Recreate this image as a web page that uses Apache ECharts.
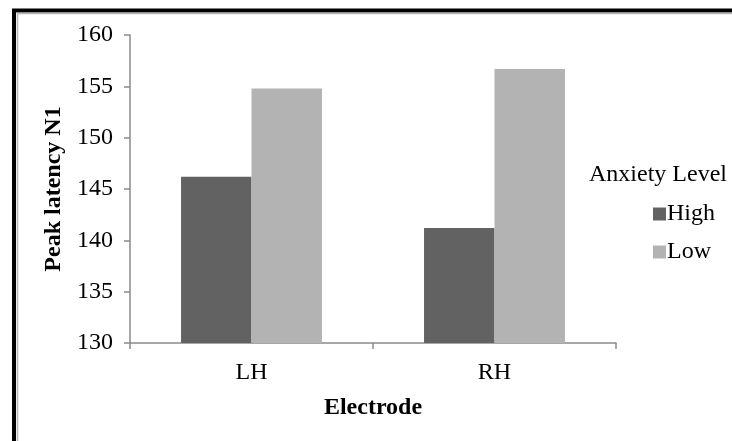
<!DOCTYPE html>
<html>
<head>
<meta charset="utf-8">
<script src="https://cdn.jsdelivr.net/npm/echarts@6/dist/echarts.min.js"></script>
<style>
  html, body { margin: 0; padding: 0; background: #fff; }
  #chart { width: 732px; height: 441px; }
</style>
</head>
<body>
<div id="chart"></div>
<script>
// Electrode sites on the x axis
const categories = ['LH', 'RH'];
// Mean N1 peak latency per anxiety group
const highValues = [146.2, 141.2];
const lowValues = [154.8, 156.7];
// Y axis range and step
const yMin = 130;
const yMax = 160;
const yStep = 5;

const serif = '"Liberation Serif", "Times New Roman", serif';
const axisGray = '#8a8a8a';
const fs = 24;

const chart = echarts.init(document.getElementById('chart'), null, { renderer: 'canvas' });

chart.setOption({
  animation: false,
  backgroundColor: '#fff',
  grid: { left: 130, right: 116, top: 35, bottom: 98, containLabel: false },
  title: {
    text: 'Anxiety Level',
    left: 584,
    top: 158,
    textStyle: { fontFamily: serif, fontSize: fs, fontWeight: 'normal', color: '#000' }
  },
  legend: {
    orient: 'vertical',
    left: 648,
    top: 197,
    itemWidth: 13,
    itemHeight: 13,
    itemGap: 14,
    icon: 'rect',
    textStyle: { fontFamily: serif, fontSize: fs, color: '#000', padding: [0, 0, 0, -4] },
    data: ['High', 'Low']
  },
  xAxis: {
    type: 'category',
    data: categories,
    name: 'Electrode',
    nameLocation: 'middle',
    nameGap: 53,
    nameTextStyle: { fontFamily: serif, fontSize: fs, fontWeight: 'bold', color: '#000' },
    axisLine: { lineStyle: { color: axisGray, width: 1.5 } },
    axisTick: { show: true, length: 6, lineStyle: { color: axisGray, width: 1.5 } },
    axisLabel: { fontFamily: serif, fontSize: fs, color: '#000', margin: 18 }
  },
  yAxis: {
    type: 'value',
    min: yMin,
    max: yMax,
    interval: yStep,
    name: 'Peak latency N1',
    nameLocation: 'middle',
    nameRotate: 90,
    nameGap: 58,
    nameTextStyle: { fontFamily: serif, fontSize: fs, fontWeight: 'bold', color: '#000' },
    splitLine: { show: false },
    axisLine: { show: true, lineStyle: { color: axisGray, width: 1.5 } },
    axisTick: { show: true, length: 6, lineStyle: { color: axisGray, width: 1.5 } },
    axisLabel: { fontFamily: serif, fontSize: fs, color: '#000', margin: 17 }
  },
  series: [
    {
      name: 'High',
      type: 'bar',
      data: highValues,
      barGap: '0%',
      barCategoryGap: '42%',
      itemStyle: { color: '#626262' }
    },
    {
      name: 'Low',
      type: 'bar',
      data: lowValues,
      barGap: '0%',
      barCategoryGap: '42%',
      itemStyle: { color: '#b3b3b3' }
    }
  ],
  graphic: [
    // outer black frame running off the right and bottom edges
    {
      type: 'rect',
      shape: { x: 14, y: 10.5, width: 900, height: 600 },
      style: { fill: null, stroke: '#000', lineWidth: 4 },
      silent: true
    },
    // thin gray inner frame
    {
      type: 'rect',
      shape: { x: 17.5, y: 13.5, width: 900, height: 600 },
      style: { fill: null, stroke: '#b5b5b5', lineWidth: 1.5 },
      silent: true
    }
  ]
});
</script>
</body>
</html>
